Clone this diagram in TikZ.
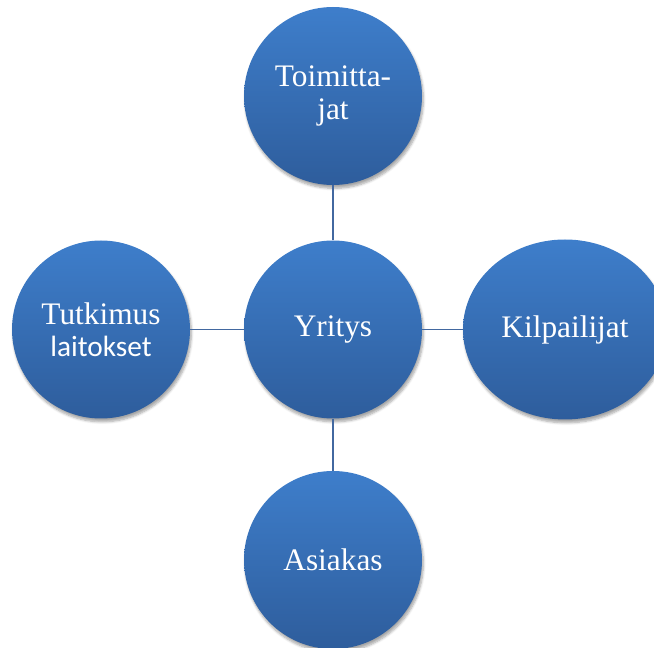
\documentclass[tikz,border=0pt]{standalone}
\usepackage{fontspec}
\setmainfont{Liberation Serif}
\newfontfamily\calib{Carlito}
\usetikzlibrary{shapes.geometric,shadows.blur}
\definecolor{topblue}{RGB}{62,126,203}
\definecolor{botblue}{RGB}{46,93,156}
\definecolor{linkblue}{RGB}{66,104,160}
\tikzset{
  bubble/.style={circle, minimum size=133.5pt, inner sep=0pt,
    top color=topblue, bottom color=botblue, draw=none,
    blur shadow={shadow xshift=1pt, shadow yshift=-2.5pt, shadow blur steps=6, shadow opacity=35},
    text=white, font=\fontsize{23.5}{25}\selectfont, align=center},
  oval/.style={bubble, ellipse, minimum width=153pt, minimum height=135pt},
  link/.style={draw=linkblue, line width=1.3pt}
}
\begin{document}
\begin{tikzpicture}[x=0.75pt,y=-0.75pt]
\useasboundingbox (0,0) rectangle (654,648);
\clip (0,0) rectangle (654,648);
\node[bubble] (top) at (333,96) {Toimitta-\\jat};
\node[bubble] (mid) at (333,329.5) {Yritys};
\node[bubble] (left) at (101,329.5) {Tutkimus\\[-1pt]{\calib\fontsize{22}{24}\selectfont laitokset}};
\node[oval] (right) at (565,329.5) {Kilpailijat};
\node[bubble] (bot) at (333,560) {Asiakas};
\draw[link] (top) -- (mid);
\draw[link] (mid) -- (bot);
\draw[link] (left) -- (mid);
\draw[link] (mid) -- (right);
\end{tikzpicture}
\end{document}
